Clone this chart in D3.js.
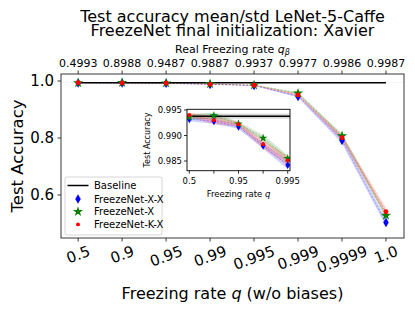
<!DOCTYPE html>
<html>
<head>
<meta charset="utf-8">
<script src="https://cdn.jsdelivr.net/npm/d3@7"></script>
<style>
  body { margin: 0; background: #fff; }
  svg { font-family: "DejaVu Sans", sans-serif; display: block; }
</style>
</head>
<body>
<svg id="chart" width="415" height="312"></svg>
<script>
// categories (freezing rate q) and the real freezing rate on the top axis
const rates = ["0.5", "0.9", "0.95", "0.99", "0.995", "0.999", "0.9999", "1.0"];
const realRates = ["0.4993", "0.8988", "0.9487", "0.9887", "0.9937", "0.9977", "0.9986", "0.9987"];

// baseline accuracy (mean / std)
const baselineMean = 0.9938;
const baselineStd = 0.0005;

// series means
const meanXX = [0.9932, 0.9928, 0.9917, 0.9880, 0.9842, 0.946, 0.791, 0.503];
const meanX  = [0.9936, 0.9939, 0.9923, 0.9895, 0.9855, 0.957, 0.807, 0.528];
const meanKX = [0.9940, 0.9930, 0.9922, 0.9883, 0.9851, 0.951, 0.801, 0.541];

// series std
const stdXX = [0.0004, 0.0005, 0.0004, 0.0006, 0.0008, 0.004, 0.010, 0.013];
const stdX  = [0.0005, 0.0006, 0.0004, 0.0006, 0.0007, 0.004, 0.009, 0.010];
const stdKX = [0.0004, 0.0008, 0.0005, 0.0008, 0.0009, 0.004, 0.010, 0.014];

const yTicksMain = [0.6, 0.8, 1.0];
const yTicksInset = [0.985, 0.990, 0.995];
const insetLabelIdx = [0, 2, 4];

const series = [
    { name: "FreezeNet-X-X", mean: meanXX, std: stdXX, color: "#0000ff", marker: "diamond" },
    { name: "FreezeNet-X",   mean: meanX,  std: stdX,  color: "#008000", marker: "star" },
    { name: "FreezeNet-K-X", mean: meanKX, std: stdKX, color: "#ff0000", marker: "circle" }
];

const svg = d3.select("#chart");

// main axes box
const box = { left: 61, right: 404, top: 74, bottom: 238 };

const x = d3.scaleLinear().domain([-0.39, 7.41]).range([box.left, box.right]);
const y = d3.scaleLinear().domain([0.449, 1.0246]).range([box.bottom, box.top]);

function markerPath(type, s) {
    if (type === "diamond") {
        return `M0,${-s * 0.95}L${s * 0.55},0L0,${s * 0.95}L${-s * 0.55},0Z`;
    }
    if (type === "star") {
        return d3.symbol().type(d3.symbolStar).size(s * s * 1.3)();
    }
    return d3.symbol().type(d3.symbolCircle).size(s * s * 0.75)();
}

function drawSeries(g, xs, ys, n) {
    const idx = d3.range(n);
    // baseline band
    g.append("rect")
        .attr("x", xs.range()[0]).attr("width", xs.range()[1] - xs.range()[0])
        .attr("y", ys(baselineMean + baselineStd))
        .attr("height", ys(baselineMean - baselineStd) - ys(baselineMean + baselineStd))
        .attr("fill", "#000").attr("opacity", 0.15);

    series.forEach(s => {
        const area = d3.area()
            .x(i => xs(i))
            .y0(i => ys(s.mean[i] - s.std[i]))
            .y1(i => ys(s.mean[i] + s.std[i]));
        g.append("path").datum(idx)
            .attr("d", area)
            .attr("fill", s.color).attr("opacity", 0.18);
    });
    series.forEach(s => {
        const line = d3.line().x(i => xs(i)).y(i => ys(s.mean[i]));
        g.append("path").datum(idx)
            .attr("d", line)
            .attr("fill", "none").attr("stroke", s.color)
            .attr("stroke-opacity", 0.35).attr("stroke-width", 0.8)
            .attr("stroke-dasharray", "2,1.5");
    });
}

function drawMarkers(g, xs, ys, n, size) {
    series.forEach(s => {
        g.selectAll(null)
            .data(d3.range(n))
            .enter()
            .append("path")
            .attr("d", markerPath(s.marker, size))
            .attr("transform", i => `translate(${xs(i)},${ys(s.mean[i])})`)
            .attr("fill", s.color);
    });
}

// ---------- main plot ----------
const main = svg.append("g");
drawSeries(main, x, y, rates.length);

main.append("line")
    .attr("x1", x(0)).attr("x2", x(rates.length - 1))
    .attr("y1", y(baselineMean)).attr("y2", y(baselineMean))
    .attr("stroke", "#000").attr("stroke-width", 1.5);

drawMarkers(main, x, y, rates.length, 5);

// frame
main.append("rect")
    .attr("x", box.left).attr("y", box.top)
    .attr("width", box.right - box.left).attr("height", box.bottom - box.top)
    .attr("fill", "none").attr("stroke", "#222").attr("stroke-width", 0.9);

// left axis
yTicksMain.forEach(t => {
    main.append("line")
        .attr("x1", box.left - 3.5).attr("x2", box.left)
        .attr("y1", y(t)).attr("y2", y(t))
        .attr("stroke", "#222").attr("stroke-width", 0.9);
    main.append("text")
        .attr("x", box.left - 7).attr("y", y(t))
        .attr("dy", "0.36em")
        .attr("text-anchor", "end")
        .attr("font-size", 15)
        .text(t.toFixed(1));
});

// bottom + top ticks
rates.forEach((r, i) => {
    main.append("line")
        .attr("x1", x(i)).attr("x2", x(i))
        .attr("y1", box.bottom).attr("y2", box.bottom + 3.5)
        .attr("stroke", "#222").attr("stroke-width", 0.9);
    main.append("line")
        .attr("x1", x(i)).attr("x2", x(i))
        .attr("y1", box.top).attr("y2", box.top - 3.5)
        .attr("stroke", "#222").attr("stroke-width", 0.9);
    main.append("text")
        .attr("x", x(i)).attr("y", box.top - 7)
        .attr("text-anchor", "middle")
        .attr("font-size", 11)
        .text(realRates[i]);
});

// rotated bottom tick labels (rotation 20deg, centered, bbox top aligned)
const sin = Math.sin(20 * Math.PI / 180), cos = Math.cos(20 * Math.PI / 180);
rates.forEach((r, i) => {
    const t = main.append("text")
        .attr("text-anchor", "middle")
        .attr("font-size", 15)
        .text(r);
    const w = t.node().getComputedTextLength();
    const h = 11;
    const bh = w * sin + h * cos;
    const cy = box.bottom + 7 + bh / 2;
    t.attr("x", x(i)).attr("y", cy).attr("dy", "0.36em")
        .attr("transform", `rotate(-20,${x(i)},${cy})`);
});

// axis labels
svg.append("text")
    .attr("x", (box.left + box.right) / 2).attr("y", 299)
    .attr("text-anchor", "middle").attr("font-size", 16)
    .html('Freezing rate <tspan font-style="italic">q</tspan> (w/o biases)');

svg.append("text")
    .attr("transform", `translate(23,${(box.top + box.bottom) / 2}) rotate(-90)`)
    .attr("text-anchor", "middle").attr("font-size", 16.5)
    .text("Test Accuracy");

svg.append("text")
    .attr("x", (box.left + box.right) / 2).attr("y", 53)
    .attr("text-anchor", "middle").attr("font-size", 11)
    .html('Real Freezing rate <tspan font-style="italic">q</tspan><tspan font-style="italic" font-size="8" dy="2">β</tspan>');

// title
svg.append("text")
    .attr("x", (box.left + box.right) / 2).attr("y", 21.5)
    .attr("text-anchor", "middle").attr("font-size", 16)
    .text("Test accuracy mean/std LeNet-5-Caffe");
svg.append("text")
    .attr("x", (box.left + box.right) / 2).attr("y", 36)
    .attr("text-anchor", "middle").attr("font-size", 16)
    .text("FreezeNet final initialization: Xavier");

// ---------- legend ----------
const leg = svg.append("g");
leg.append("rect")
    .attr("x", 65).attr("y", 177).attr("width", 97).attr("height", 58)
    .attr("rx", 2).attr("fill", "#fff").attr("fill-opacity", 0.8)
    .attr("stroke", "#ccc").attr("stroke-width", 0.8);
leg.append("line")
    .attr("x1", 67.5).attr("x2", 88.5).attr("y1", 185.5).attr("y2", 185.5)
    .attr("stroke", "#000").attr("stroke-width", 1.5);
leg.append("text").attr("x", 94).attr("y", 185.5).attr("dy", "0.36em")
    .attr("font-size", 10).text("Baseline");
series.forEach((s, k) => {
    const ly = 199 + k * 12.7;
    leg.append("path")
        .attr("d", markerPath(s.marker, s.marker === "circle" ? 4 : 5))
        .attr("transform", `translate(78,${ly})`)
        .attr("fill", s.color);
    leg.append("text").attr("x", 94).attr("y", ly).attr("dy", "0.36em")
        .attr("font-size", 10).text(s.name);
});

// ---------- inset ----------
const ib = { left: 187, right: 290, top: 109.3, bottom: 170.7 };
const nIn = 5;
const xi = d3.scaleLinear().domain([-0.093, 4.093]).range([ib.left, ib.right]);
const yi = d3.scaleLinear().domain([0.98310, 0.99514]).range([ib.bottom, ib.top]);

const inset = svg.append("g");
inset.append("rect")
    .attr("x", ib.left).attr("y", ib.top)
    .attr("width", ib.right - ib.left).attr("height", ib.bottom - ib.top)
    .attr("fill", "#fff");

inset.append("clipPath").attr("id", "clipInset")
    .append("rect")
    .attr("x", ib.left).attr("y", ib.top)
    .attr("width", ib.right - ib.left).attr("height", ib.bottom - ib.top);

const insetData = inset.append("g").attr("clip-path", "url(#clipInset)");
drawSeries(insetData, xi, yi, nIn);
insetData.append("line")
    .attr("x1", ib.left).attr("x2", ib.right)
    .attr("y1", yi(baselineMean)).attr("y2", yi(baselineMean))
    .attr("stroke", "#000").attr("stroke-width", 1.5);
drawMarkers(insetData, xi, yi, nIn, 4.2);

inset.append("rect")
    .attr("x", ib.left).attr("y", ib.top)
    .attr("width", ib.right - ib.left).attr("height", ib.bottom - ib.top)
    .attr("fill", "none").attr("stroke", "#000").attr("stroke-width", 0.9);

yTicksInset.forEach(t => {
    inset.append("line")
        .attr("x1", ib.left - 3).attr("x2", ib.left)
        .attr("y1", yi(t)).attr("y2", yi(t))
        .attr("stroke", "#000").attr("stroke-width", 0.8);
    inset.append("text")
        .attr("x", ib.left - 5).attr("y", yi(t)).attr("dy", "0.36em")
        .attr("text-anchor", "end").attr("font-size", 8.5)
        .text(t.toFixed(3));
});

d3.range(nIn).forEach(i => {
    inset.append("line")
        .attr("x1", xi(i)).attr("x2", xi(i))
        .attr("y1", ib.bottom).attr("y2", ib.bottom + 3)
        .attr("stroke", "#000").attr("stroke-width", 0.8);
});
insetLabelIdx.forEach(i => {
    inset.append("text")
        .attr("x", xi(i)).attr("y", ib.bottom + 13)
        .attr("text-anchor", "middle").attr("font-size", 8.5)
        .text(rates[i]);
});

inset.append("text")
    .attr("x", (ib.left + ib.right) / 2).attr("y", ib.bottom + 26.5)
    .attr("text-anchor", "middle").attr("font-size", 8.5)
    .html('Freezing rate <tspan font-style="italic">q</tspan>');

inset.append("text")
    .attr("transform", `translate(149.5,${(ib.top + ib.bottom) / 2}) rotate(-90)`)
    .attr("text-anchor", "middle").attr("font-size", 8)
    .text("Test Accuracy");
</script>
</body>
</html>
